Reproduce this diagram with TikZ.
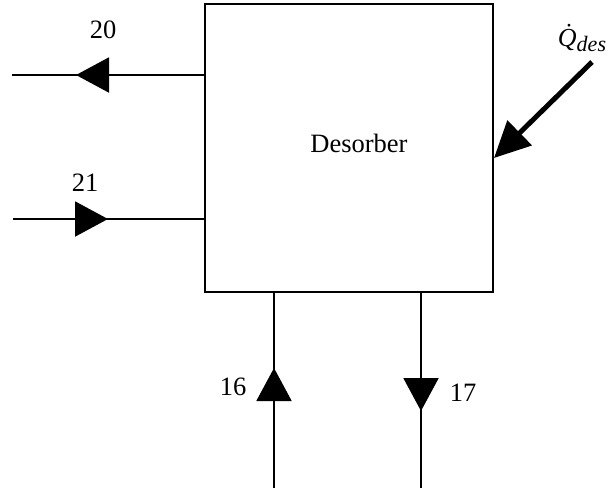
\documentclass[tikz,border=0pt]{standalone}
\usepackage{fontspec}
\setmainfont{Liberation Serif}
\usetikzlibrary{arrows.meta,decorations.markings}
\tikzset{
  flow/.style={line width=2pt},
  lbl/.style={font=\fontsize{26.5}{30}\selectfont, inner sep=0pt},
  tri/.style={postaction={decorate, decoration={markings, mark=at position #1 with {\arrow{Triangle[length=33pt,width=35pt]}}}}},
  unit/.style={draw, line width=2pt, minimum width=288pt, minimum height=288pt, inner sep=0pt}
}
\begin{document}
\begin{tikzpicture}[x=1pt,y=-1pt]
\useasboundingbox (0,0) rectangle (610,491);
\node[unit] (box) at (349,148) {};
\node[lbl] (des) at (359,143) {Desorber};
\coordinate (e20) at (12,75);
\coordinate (s21) at (13,219);
\coordinate (s16) at (274,488);
\coordinate (e17) at (421,488);
\coordinate (qs) at (592,62);
\coordinate (qt) at (494,158);
\draw[flow, tri=128pt] (box.west |- e20) -- (e20);
\draw[flow, tri=95pt] (s21) -- (box.west |- s21);
\draw[flow, tri=120pt] (s16) -- (box.south -| s16);
\draw[flow, tri=118pt] (box.south -| e17) -- (e17);
\draw[line width=5pt, -{Triangle[length=36pt,width=34pt]}] (qs) -- (box.east |- qt);
\node[lbl] (l20) at (103,30) {20};
\node[lbl] (l21) at (85,183) {21};
\node[lbl] (l16) at (233,387) {16};
\node[lbl] (l17) at (463,393) {17};
\node[inner sep=0pt, font=\fontsize{26}{30}\selectfont\itshape] (lq) at (582,38) {\.{Q}\raisebox{-5pt}{\fontsize{22}{26}\selectfont des}};
\end{tikzpicture}
\end{document}
